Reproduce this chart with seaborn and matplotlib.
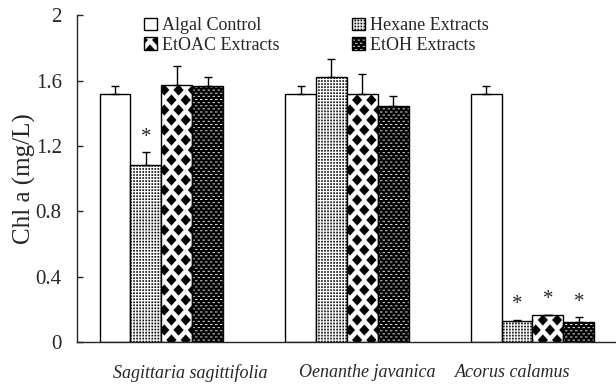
import numpy as np
import pandas as pd
import seaborn as sns
import matplotlib.pyplot as plt
import matplotlib.hatch as mhatch
from matplotlib.path import Path
from matplotlib.transforms import ScaledTranslation

# Data
species = ["Sagittaria sagittifolia", "Oenanthe javanica", "Acorus calamus"]
treatments = ["Algal Control", "Hexane Extracts", "EtOAC Extracts", "EtOH Extracts"]
control = [1.52, 1.52, 1.52]
hexane = [1.08, 1.62, 0.13]
etoac = [1.57, 1.52, 0.163]
etoh = [1.565, 1.445, 0.12]
control_err = [0.045, 0.045, 0.045]
hexane_err = [0.08, 0.11, 0.005]
etoac_err = [0.12, 0.12, 0.005]
etoh_err = [0.055, 0.06, 0.03]
# significant (*) bars
control_sig = [False, False, False]
hexane_sig = [True, False, True]
etoac_sig = [False, False, True]
etoh_sig = [False, False, True]

values = [control, hexane, etoac, etoh]
errors = [control_err, hexane_err, etoac_err, etoh_err]
signif = [control_sig, hexane_sig, etoac_sig, etoh_sig]

df = pd.DataFrame({
    "species": species * len(treatments),
    "treatment": [t for t in treatments for _ in species],
    "chla": np.concatenate(values),
})


# Fill patterns of the original (dots, diamonds, dark mesh) as custom hatches
def rect(x0, y0, w, h):
    return [(x0, y0), (x0 + w, y0), (x0 + w, y0 + h), (x0, y0 + h), (x0, y0)]


def dots_pattern(n=33, frac=0.5):
    s = frac / n
    return [rect(i / n, j / n, s, s) for i in range(n) for j in range(n)]


def diamond_pattern(nx=7, ny=10, a=0.05, b=0.055):
    polys = []
    for j in range(-1, ny + 1):
        off = 0.5 / nx if j % 2 else 0.0
        for i in range(-1, nx + 1):
            cx, cy = i / nx + off, j / ny
            polys.append([(cx, cy - b), (cx + a, cy), (cx, cy + b), (cx - a, cy), (cx, cy - b)])
    return polys


def mesh_pattern(nx=20, ny=32, hole_w=0.5, hole_h=0.33):
    px, py = 1 / nx, 1 / ny
    polys = []
    for j in range(ny):
        y0 = j * py
        polys.append(rect(0, y0 + hole_h * py, 1, (1 - hole_h) * py))
        off = 0.5 * px if j % 2 else 0.0
        for i in range(-1, nx + 1):
            x0 = i * px + off + hole_w * px
            polys.append(rect(x0, y0, (1 - hole_w) * px, hole_h * py))
    return polys


PATTERNS = {".": dots_pattern(), "*": diamond_pattern(), "o": mesh_pattern()}


class BlockHatch(mhatch.HatchPatternBase):
    def __init__(self, hatch, density):
        self.polys = [p for ch, ps in PATTERNS.items() if ch in hatch for p in ps]
        self.num_vertices = sum(len(p) for p in self.polys)

    def set_vertices_and_codes(self, vertices, codes):
        k = 0
        for p in self.polys:
            n = len(p)
            vertices[k:k + n] = p
            codes[k] = Path.MOVETO
            codes[k + 1:k + n - 1] = Path.LINETO
            codes[k + n - 1] = Path.CLOSEPOLY
            k += n


mhatch._hatch_types[:] = [BlockHatch]
hatches = ["", ".", "*", "o"]

sns.set_style("ticks")
plt.rcParams["font.family"] = ["Liberation Serif", "DejaVu Serif"]
plt.rcParams["hatch.linewidth"] = 0.1

fig = plt.figure(figsize=(6.16, 3.85), dpi=100)
ax = fig.add_axes([0.125, 0.1117, 0.874, 0.849])

sns.barplot(data=df, x="species", y="chla", hue="treatment", hue_order=treatments,
            palette=["white"] * 4, edgecolor="black", linewidth=1.0,
            errorbar=None, width=0.667, ax=ax)

for cont, h, errs, sig in zip(ax.containers, hatches, errors, signif):
    xs, tops = [], []
    for bar in cont:
        bar.set_hatch(h)
        xs.append(bar.get_x() + bar.get_width() / 2)
        tops.append(bar.get_height())
    ax.errorbar(xs, tops, yerr=[np.zeros(len(errs)), errs], fmt="none",
                ecolor="black", elinewidth=1.0, capsize=2.6, capthick=1.0)
    for x, t, e, s in zip(xs, tops, errs, sig):
        if s:
            ax.annotate("*", (x, t + e), xytext=(0, 11), textcoords="offset points",
                        ha="center", va="center", fontsize=15)

# legend: two columns, frameless
handles, labels = ax.get_legend_handles_labels()
order = [0, 2, 1, 3]
leg = ax.legend([handles[i] for i in order], [labels[i] for i in order], ncol=2,
                loc="upper left", bbox_to_anchor=(0.124, 0.993), frameon=False,
                fontsize=13, handlelength=0.75, handleheight=0.7, handletextpad=0.25,
                columnspacing=4.0, labelspacing=0.15, borderpad=0, borderaxespad=0)
for patch, i in zip(leg.get_patches(), order):
    patch.set_facecolor("white")
    patch.set_edgecolor("black")
    patch.set_linewidth(1.0)
    patch.set_hatch(hatches[i])

ax.set_xlim(-0.455, 2.447)
ax.set_ylim(0, 2)
ax.set_yticks(np.arange(0, 2.01, 0.4))
ax.set_yticklabels([f"{v:g}" for v in np.arange(0, 2.01, 0.4)])
ax.tick_params(axis="y", direction="in", length=4, width=1, pad=11, labelsize=15)
ax.tick_params(axis="x", length=0, pad=16, labelsize=13)
ax.set_xlabel("")
ax.set_ylabel("Chl a (mg/L)", fontsize=18, labelpad=0)

# species labels are not centred under the groups in the original
label_shift_px = [29, 20, -20]
for lab, dx in zip(ax.get_xticklabels(), label_shift_px):
    lab.set_fontstyle("italic")
    lab.set_transform(lab.get_transform() + ScaledTranslation(dx / 100, 0, fig.dpi_scale_trans))

sns.despine(ax=ax)
for sp in ax.spines.values():
    sp.set_linewidth(1.0)

fig.savefig("out.png", dpi=100)
